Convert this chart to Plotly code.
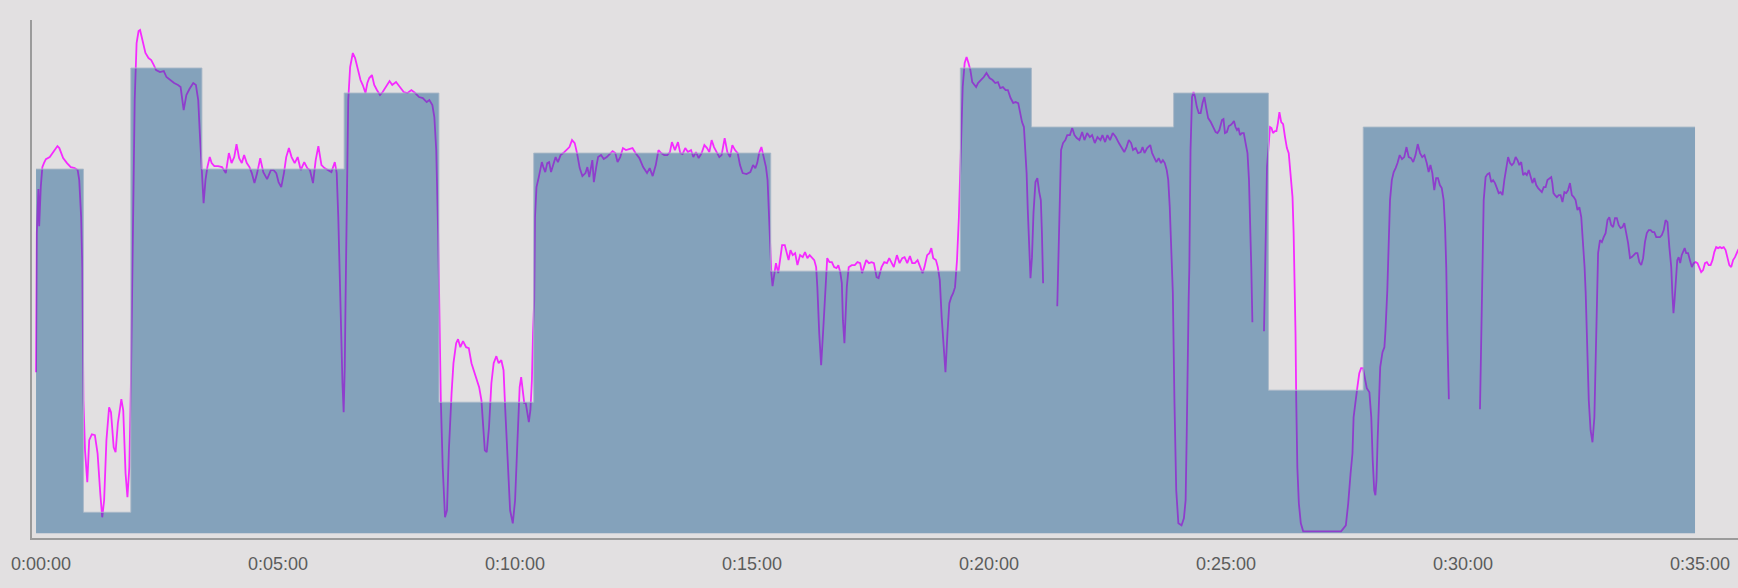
import plotly.graph_objects as go

# ---- target (workout steps) ----
step_start_s = [0, 60, 120, 210, 390, 510, 630, 930, 1170, 1260, 1440, 1560, 1680]
step_end_s = 2100
target_watts = [364, 21, 465, 364, 440, 131, 380, 262, 465, 406, 440, 143, 406]

# ---- recorded power, in segments (gaps between segments = dropouts) ----
seg1_t = [0, 1, 3, 4, 6, 8, 10, 12.5, 17.4, 22.2,
          27.1, 29.5, 34.3, 39.2, 44, 48.9, 52.7, 54.7, 57.1, 58.6,
          60, 62, 64.9, 67.3, 70.7, 74.5, 77.9, 81.3, 83.8, 86.2,
          89.1, 92.5, 94.9, 98.3, 100.7, 103.6, 108, 110.4, 113.3, 115.7,
          118.1, 120.1, 121.5, 123, 124.9, 127.3, 129.8, 131.7, 133.6, 136.1,
          138.5, 142.4, 145.8, 149.1, 152, 156.9, 161.7, 165.1, 169.9, 174.8,
          179.7, 183, 186.9, 190.3, 194.2, 199, 202.4, 205.3, 207.3, 209.7,
          212.1, 214.5, 216.9, 219.9, 222.3, 225.7, 230.5, 235.4, 240.2, 244.1,
          247.5, 250.9, 253.8, 257.1, 260.5, 263.4, 266.8, 270.2, 273.1, 276.5,
          279.9, 283.8, 287.7, 292.5, 297.3, 300.7, 304.1, 307, 310.4, 313.8,
          316.7, 320.1, 323.5, 327.4, 331.2, 335.1, 339.5, 343.4, 346.7, 350.6,
          354, 357.4, 361.3, 365.2, 370, 373.9, 378.2, 380.6, 382.6, 384,
          385.5, 387.9, 389.4, 390.8, 391.8, 392.8, 395.2, 397.6, 401, 403.9,
          407.3, 410.7, 413.6, 417, 419.4, 421.8, 425.2, 428.1, 431.5, 435.4,
          438.8, 442.7, 447.5, 450.9, 455.7, 460.6, 465.4, 470.3, 475.1, 479.9,
          484.8, 489.6, 494.5, 497.9, 501.7, 504.2, 506.6, 509, 510.5, 512.4,
          514.8, 517.7, 520.2, 522.6, 526, 528.4, 531.8, 534.2, 537.1, 540.5,
          544.4, 547.8, 551.2, 554.1, 557.5, 560.9, 563.8, 565.7, 568.1, 570.5,
          573.4, 576.4, 579.3, 582.7, 585.6, 589, 591.8, 593.8, 597.2, 600.1,
          603.5, 606.4, 609.3, 612.2, 614.1, 616.1, 618, 619.9, 621.9, 623.8,
          625.8, 627.7, 629.1, 630.6, 631.6, 633.5, 636.4, 638.3, 640.3, 642.2,
          644.6, 647.1, 649.5, 651.9, 654.3, 657.7, 660.6, 664, 667.4, 671.3,
          675.2, 678.5, 681.9, 684.8, 688.2, 691.6, 695.5, 697.9, 700.3, 704.2,
          706.1, 709.1, 711.5]
seg1_w = [161, 300, 344, 307, 346, 366, 370, 374, 376, 381,
          387, 385, 375, 370, 366, 365, 363, 353, 316, 266,
          133, 83, 51, 93, 99, 98, 80, 40, 16, 33,
          93, 126, 121, 86, 81, 110, 134, 123, 60, 36,
          66, 150, 233, 300, 433, 490, 502, 503, 496, 486,
          480, 475, 473, 468, 463, 461, 462, 456, 453, 450,
          448, 446, 423, 438, 444, 450, 448, 433, 400, 360,
          330, 353, 366, 376, 370, 367, 367, 366, 360, 380,
          370, 376, 389, 375, 370, 378, 370, 366, 360, 350,
          360, 375, 361, 354, 363, 363, 360, 351, 346, 360,
          376, 385, 376, 370, 376, 363, 371, 365, 363, 350,
          373, 387, 368, 365, 363, 361, 371, 360, 316, 266,
          216, 150, 121, 166, 233, 300, 433, 466, 480, 475,
          463, 453, 448, 440, 450, 455, 458, 448, 443, 438,
          441, 446, 452, 448, 451, 446, 441, 440, 443, 440,
          436, 435, 431, 433, 428, 416, 383, 300, 200, 133,
          66, 16, 23, 83, 140, 170, 190, 194, 186, 192,
          186, 185, 170, 163, 156, 146, 133, 110, 83, 81,
          106, 150, 170, 177, 170, 173, 163, 126, 66, 23,
          10, 33, 90, 146, 156, 143, 130, 130, 120, 111,
          123, 153, 200, 233, 316, 346, 356, 363, 371, 366,
          361, 370, 371, 361, 368, 376, 371, 378, 380, 383,
          386, 393, 390, 380, 365, 357, 360, 366, 356, 373,
          351, 366, 376]

seg2_t = [715.2, 718.6, 722.5, 726.4, 729.8, 733.2, 736.1, 739.5, 742.9, 746.7,
          750.6, 755, 758.8, 763.7, 768.5, 773.4, 776.8, 780.6, 784.5, 787.9,
          791.3, 795.2, 799.1, 802.4, 804.9, 808.7, 812.6, 815.5, 818.4, 821.8,
          825.2, 829.1, 832, 835.4, 838.8, 842.6, 846, 849.4, 852.3, 855.2,
          858.2, 861.5, 864.9, 867.8, 871.7, 875.1, 878.5, 881.4, 884.8, 888.2,
          891.1, 894.5, 899.3, 904.2, 907.6, 910.5, 912.9, 915.3, 918.2, 921.1,
          924, 926, 927.4, 929.4, 930.8, 932.3, 934.2, 936.6, 939.5, 941.5,
          944.4, 947.8, 950.2, 952.6, 955, 957.9, 960.9, 963.8, 967.1, 970.5,
          973.4, 976.4, 979.3, 982.2, 985.1, 987.5, 989, 991.4, 993.8, 996.2,
          998.6, 999.6, 1001.5, 1004.4, 1007.4, 1010.3, 1013.2, 1015.6, 1018, 1020,
          1021.4, 1023.3, 1024.8, 1026.3, 1028.7, 1032.5, 1036.4, 1039.8, 1043.2, 1045.6,
          1048, 1050.9, 1054.3, 1057.7, 1060.6, 1064, 1066.5, 1070.3, 1073.7, 1077.1,
          1080, 1083.4, 1085.8, 1089.7, 1093.1, 1096.5, 1099.4, 1102.8, 1106.2, 1109.1,
          1112.5, 1115.9, 1118.8, 1122.2, 1124.6, 1128, 1130.9, 1133.3, 1135.7, 1139.1,
          1141.5, 1144, 1146.4, 1148.8, 1151.2, 1153.7, 1156.1, 1158.5, 1160.9, 1163.3,
          1165.8, 1168.2, 1170.6, 1173, 1175.5, 1177.9, 1180.3, 1182.7, 1185.1, 1187.6,
          1190, 1192.4, 1196.3, 1199.7, 1203.1, 1207, 1210.8, 1214.2, 1217.6, 1220.5,
          1223.9, 1227.3, 1230.2, 1233.6, 1237, 1239.9, 1243.3, 1245.7, 1248.1, 1250.5,
          1252, 1253.9, 1255.4, 1256.8, 1258.8, 1260.7, 1262.6, 1265.1, 1267.5, 1269.9,
          1271.9, 1273.3, 1274.8]
seg2_w = [378, 374, 376, 379, 382, 380, 371, 376, 385, 383,
          384, 385, 380, 375, 366, 360, 365, 357, 368, 383,
          380, 378, 378, 381, 391, 383, 391, 380, 379, 385,
          381, 383, 376, 381, 375, 380, 388, 385, 381, 393,
          386, 381, 376, 378, 395, 381, 376, 388, 383, 380,
          368, 360, 359, 361, 368, 365, 370, 380, 386, 376,
          366, 353, 320, 280, 260, 247, 260, 270, 260, 270,
          288, 288, 280, 273, 283, 278, 280, 268, 278, 276,
          281, 275, 278, 276, 273, 266, 246, 200, 168, 200,
          233, 246, 275, 271, 271, 266, 265, 268, 261, 250,
          213, 190, 216, 246, 266, 268, 268, 271, 270, 260,
          266, 273, 270, 271, 270, 256, 255, 266, 271, 270,
          275, 270, 266, 278, 270, 275, 276, 270, 277, 270,
          270, 273, 266, 260, 266, 278, 280, 285, 275, 273,
          266, 253, 216, 193, 161, 200, 230, 236, 240, 246,
          273, 316, 383, 446, 470, 476, 470, 463, 451, 448,
          446, 450, 453, 456, 460, 455, 453, 450, 451, 445,
          446, 443, 443, 435, 430, 431, 430, 420, 411, 406,
          386, 360, 323, 286, 255, 276, 320, 351, 355, 341,
          333, 300, 250]

seg3_t = [1292.7, 1294.1, 1295.6, 1297.5, 1300, 1302.9, 1305.3, 1308.7, 1311.6, 1314.5,
          1317.4, 1320.8, 1324.2, 1327.1, 1330.5, 1333.9, 1336.8, 1340.2, 1343.6, 1347.4,
          1349.9, 1353.3, 1356.2, 1359.5, 1362.9, 1366.8, 1370.7, 1374.1, 1377.5, 1380.4,
          1383.3, 1386.2, 1388.6, 1392, 1394.9, 1398.3, 1400.7, 1403.1, 1406.5, 1410.4,
          1412.8, 1415.2, 1418.2, 1421.1, 1424, 1426.4, 1428.8, 1431.3, 1433.2, 1435.1,
          1437.1, 1439, 1441, 1443.3, 1446, 1450, 1453, 1455.2, 1456.6, 1458,
          1459, 1459.9, 1461.4, 1463.3, 1465.2, 1467.1, 1469.4, 1471.8, 1474.2, 1476.6,
          1478.9, 1481.3, 1483.7, 1487, 1489.8, 1493.2, 1495.5, 1497.9, 1501.2, 1503.1,
          1505, 1507.4, 1509.8, 1512.2, 1514.5, 1516.4, 1518.3, 1520.2, 1522.1, 1524,
          1526.4, 1528.8, 1531.1, 1533.5, 1535.4, 1536.8, 1538.3, 1539.7]
seg3_w = [227, 266, 333, 383, 390, 393, 398, 398, 405, 398,
          395, 393, 401, 393, 400, 396, 398, 390, 396, 393,
          398, 391, 398, 393, 400, 396, 390, 386, 381, 386,
          393, 390, 383, 385, 380, 381, 386, 380, 385, 388,
          380, 376, 371, 375, 370, 373, 370, 363, 353, 326,
          283, 240, 133, 43, 10, 8, 15, 33, 100, 200,
          233, 266, 383, 436, 441, 436, 426, 420, 420, 430,
          436, 425, 415, 411, 406, 401, 400, 403, 413, 414,
          400, 401, 407, 408, 410, 412, 406, 403, 405, 398,
          400, 400, 390, 380, 353, 316, 266, 211]

seg4_t = [1554.4, 1555.3, 1556.8, 1558.2, 1560.1, 1562, 1563.9, 1565.8, 1568.2, 1570.1,
          1572, 1573.9, 1576.2, 1578.6, 1581, 1583.4, 1585.7, 1588.1, 1590.5, 1591.9,
          1593.3, 1594.3, 1595.2, 1596.6, 1598.5, 1601, 1604, 1652, 1658, 1661,
          1664, 1666.4, 1667.8, 1670.2, 1672.6, 1675, 1677.3, 1679.7, 1682.1, 1684.5,
          1687.8, 1690.2, 1692, 1693.9, 1695.4, 1696.8, 1698.2, 1699.6, 1701.5, 1704.4,
          1706.8, 1708.2, 1709.6, 1710.5, 1712, 1713.9, 1716.2, 1718.6, 1721, 1723.4,
          1726.2, 1729.1, 1731.9, 1734.8, 1737.6, 1740.5, 1743.3, 1746.2, 1749, 1751.9,
          1754.7, 1757.5, 1760.4, 1762.8, 1765.1, 1767.5, 1769.9, 1772.3, 1774.6, 1777,
          1779.4, 1781.8, 1783.6, 1785.1, 1786.5, 1788.4]
seg4_w = [202, 250, 300, 366, 386, 406, 405, 400, 402, 402,
          410, 421, 411, 409, 396, 385, 380, 360, 336, 300,
          246, 200, 133, 66, 30, 10, 2, 2, 8, 30,
          60, 80, 116, 133, 146, 160, 165, 165, 156, 145,
          141, 116, 73, 43, 38, 53, 93, 133, 166, 181,
          186, 203, 226, 243, 283, 333, 353, 361, 365, 370,
          378, 374, 376, 386, 376, 375, 371, 378, 389, 380,
          376, 378, 370, 361, 368, 360, 343, 355, 355, 348,
          345, 333, 306, 266, 200, 134]

seg5_t = [1827.8, 1829.2, 1830.2, 1831.1, 1832.5, 1834.9, 1837.3, 1839.7, 1842, 1844.4,
          1846.8, 1849.2, 1851.5, 1853.9, 1856.3, 1858.6, 1861, 1863.4, 1865.8, 1868.1,
          1870.5, 1872.9, 1875.3, 1877.6, 1880, 1882.4, 1884.8, 1887.1, 1889.5, 1891.9,
          1894.2, 1896.6, 1899, 1901.4, 1903.7, 1906.1, 1908.5, 1910.9, 1913.2, 1915.6,
          1918, 1919.4, 1920.8, 1922.7, 1925.1, 1927.5, 1929.8, 1932.2, 1934.6, 1937,
          1939.3, 1941.7, 1944.1, 1946.5, 1948.8, 1951.2, 1953.6, 1956, 1958.3, 1960.2,
          1961.6, 1963.1, 1965.5, 1967.8, 1970.2, 1972.6, 1974, 1975.9, 1977.3, 1979.7,
          1982.1, 1984.4, 1986.8, 1989.2, 1991.5, 1993.9, 1996.3, 1998.7, 2001, 2003.4,
          2005.8, 2008.2, 2010.5, 2012.9, 2015.3, 2017.7, 2020, 2022.4, 2024.8, 2027.1,
          2029.5, 2031.9, 2034.3, 2036.6, 2039, 2041.4, 2043.8, 2046.1, 2048.5, 2050.9,
          2053.3, 2055.6, 2058, 2060.4, 2062.7, 2065.1, 2067.5, 2069.9, 2071.3, 2072.7,
          2074.1, 2075.6, 2077.5, 2079.3, 2081.2, 2083.1, 2085, 2086.9, 2088.8, 2091.2,
          2093.6, 2096, 2098.3, 2100.7, 2103.1, 2105.5, 2107.8, 2110.2, 2112.6, 2115,
          2117.3, 2119.7, 2122.1, 2124.4, 2126.8, 2129.2, 2131.6, 2133.9, 2136.3, 2138.7,
          2141.1, 2143.4, 2145.8, 2148.2, 2150.6, 2152.9, 2154.4, 2156]
seg5_w = [124, 183, 233, 266, 333, 356, 359, 360, 351, 353,
          350, 345, 340, 341, 338, 353, 365, 376, 370, 368,
          370, 376, 373, 368, 371, 358, 360, 358, 363, 355,
          350, 355, 348, 345, 343, 341, 346, 346, 353, 355,
          356, 350, 340, 338, 336, 338, 338, 331, 341, 340,
          343, 350, 338, 336, 333, 323, 326, 316, 293, 266,
          240, 200, 133, 103, 91, 116, 166, 233, 280, 293,
          291, 296, 300, 313, 316, 308, 306, 315, 315, 308,
          305, 306, 310, 300, 290, 275, 276, 278, 280, 280,
          271, 268, 275, 291, 300, 303, 303, 301, 301, 296,
          296, 296, 298, 303, 313, 311, 286, 266, 240, 220,
          233, 256, 273, 276, 270, 278, 281, 285, 280, 280,
          273, 266, 270, 271, 270, 266, 261, 263, 270, 271,
          268, 268, 273, 281, 286, 285, 286, 285, 286, 283,
          276, 268, 266, 273, 276, 281, 283, 285]

tick_seconds = [0, 300, 600, 900, 1200, 1500, 1800, 2100]
tick_labels = ["0:00:00", "0:05:00", "0:10:00", "0:15:00", "0:20:00",
               "0:25:00", "0:30:00", "0:35:00"]

# ---- assemble ----
segs_t = [seg1_t + seg2_t, seg3_t, seg4_t, seg5_t]
segs_w = [seg1_w + seg2_w, seg3_w, seg4_w, seg5_w]
power_t, power_w = [], []
for i, (st, sw) in enumerate(zip(segs_t, segs_w)):
    assert len(st) == len(sw), (i, len(st), len(sw))
    if i:
        power_t.append(None)
        power_w.append(None)
    power_t += st
    power_w += sw

step_x = step_start_s + [step_end_s]
step_y = target_watts + [target_watts[-1]]

BG = "#e2e0e1"
fig = go.Figure()
fig.add_trace(go.Scatter(
    x=power_t, y=power_w, mode="lines",
    line=dict(color="#f52aff", width=1.8),
    connectgaps=False, hoverinfo="skip", showlegend=False))
fig.add_trace(go.Scatter(
    x=step_x, y=step_y, mode="lines",
    line=dict(shape="hv", color="rgba(168,184,200,0.9)", width=1),
    fill="tozeroy", fillcolor="rgba(17,86,143,0.45)",
    hoverinfo="skip", showlegend=False))

fig.update_layout(
    width=1738, height=588,
    margin=dict(l=32, r=0, t=20, b=50, pad=0),
    paper_bgcolor=BG, plot_bgcolor=BG,
    showlegend=False,
    xaxis=dict(range=[-5.1, 2154.4], showgrid=False, zeroline=False,
               showline=True, linecolor="#9b9b9b", linewidth=2,
               ticks="", tickvals=tick_seconds, ticktext=tick_labels,
               ticklabelshift=5, ticklabelstandoff=8,
               tickfont=dict(family="Liberation Sans, Arial, sans-serif",
                             size=18, color="#5c5c5c")),
    yaxis=dict(range=[-4.7, 513], showgrid=False, zeroline=False,
               showline=True, linecolor="#9b9b9b", linewidth=2,
               ticks="", showticklabels=False),
)

fig.write_html("out.html",
               config={"displayModeBar": False},
               post_script="document.body.style.margin='0';document.body.style.overflow='hidden';")
